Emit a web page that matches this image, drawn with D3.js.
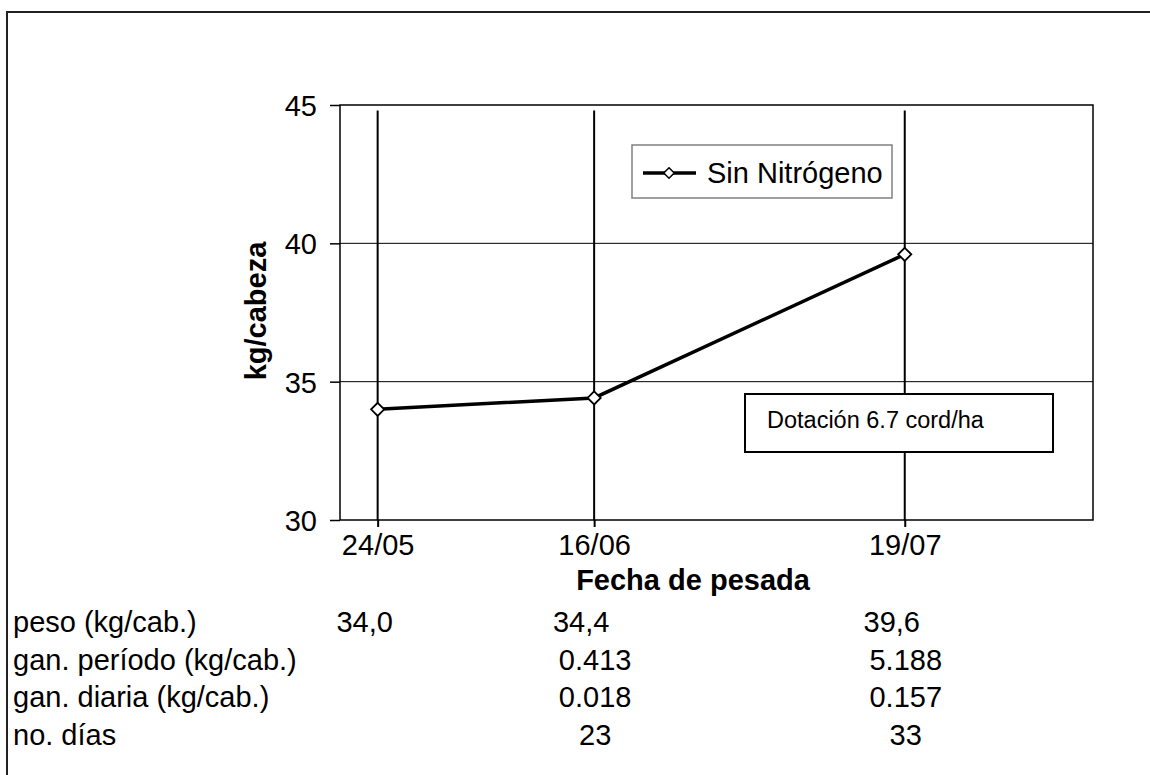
<!DOCTYPE html>
<html>
<head>
<meta charset="utf-8">
<script src="https://cdn.jsdelivr.net/npm/d3@7"></script>
<style>
  body { margin: 0; background: #fff; }
  text { font-family: "Liberation Sans", Arial, sans-serif; fill: #000; }
</style>
</head>
<body>
<script>
// data
const fechas = ["24/05", "16/06", "19/07"];
const peso = [34.0, 34.413, 39.601];
const yTicks = [30, 35, 40, 45];
const serieNombre = "Sin Nitrógeno";
const nota = "Dotación 6.7 cord/ha";

const filaEtiquetas = ["peso (kg/cab.)", "gan. período (kg/cab.)", "gan. diaria (kg/cab.)", "no. días"];
const filaPeso = ["34,0", "34,4", "39,6"];
const filaGanPeriodo = ["", "0.413", "5.188"];
const filaGanDiaria = ["", "0.018", "0.157"];
const filaDias = ["", "23", "33"];

function main(){
    const width = 1150, height = 775;
    const parse = d3.timeParse("%d/%m");

    const svg = d3.select("body").append("svg")
        .attr("width", width)
        .attr("height", height);

    // outer frame
    svg.append("path")
        .attr("d", "M7,775V12H1150")
        .attr("fill", "none")
        .attr("stroke", "#222")
        .attr("stroke-width", 2);

    const xScale = d3.scaleTime()
        .domain([parse("20/05"), parse("08/08")])
        .range([340, 1093]);
    const yScale = d3.scaleLinear().domain([30, 45]).range([520, 105]);

    const pts = fechas.map((f, i) => ({ d: parse(f), v: peso[i] }));

    // gridlines
    svg.append("g").selectAll("line")
        .data([35, 40])
        .join("line")
        .attr("x1", xScale.range()[0]).attr("x2", xScale.range()[1])
        .attr("y1", d => yScale(d)).attr("y2", d => yScale(d))
        .attr("stroke", "#000").attr("stroke-width", 1);

    // vertical lines at each weighing date
    svg.append("g").selectAll("line")
        .data(pts)
        .join("line")
        .attr("x1", d => xScale(d.d)).attr("x2", d => xScale(d.d))
        .attr("y1", yScale(44.8)).attr("y2", yScale(30))
        .attr("stroke", "#000").attr("stroke-width", 2);

    // plot frame
    svg.append("rect")
        .attr("x", xScale.range()[0]).attr("y", yScale(45))
        .attr("width", xScale.range()[1] - xScale.range()[0])
        .attr("height", yScale(30) - yScale(45))
        .attr("fill", "none").attr("stroke", "#000").attr("stroke-width", 1.5);

    // y axis
    const yAxis = svg.append("g")
        .attr("transform", `translate(${xScale.range()[0]},0)`)
        .call(d3.axisLeft(yScale).tickValues(yTicks).tickSize(10).tickPadding(13));
    yAxis.select(".domain").remove();
    yAxis.selectAll("line").attr("stroke", "#000").attr("stroke-width", 1.5);
    yAxis.selectAll("text").attr("font-size", "29px").attr("font-family", null).attr("dy", "0.36em");

    // x axis
    const xAxis = svg.append("g")
        .attr("transform", `translate(0,${yScale(30)})`)
        .call(d3.axisBottom(xScale).tickValues(pts.map(d => d.d))
            .tickFormat(d3.timeFormat("%d/%m")).tickSize(7).tickPadding(7));
    xAxis.select(".domain").remove();
    xAxis.selectAll("line").attr("stroke", "#000").attr("stroke-width", 2);
    xAxis.selectAll("text").attr("font-size", "29px").attr("font-family", null);

    // axis titles
    svg.append("text")
        .attr("x", 693).attr("y", 590)
        .attr("text-anchor", "middle")
        .attr("font-size", "29px").attr("font-weight", "bold")
        .text("Fecha de pesada");
    svg.append("text")
        .attr("transform", "translate(266,311) rotate(-90)")
        .attr("text-anchor", "middle")
        .attr("font-size", "29px").attr("font-weight", "bold")
        .text("kg/cabeza");

    // series line
    const line = d3.line().x(d => xScale(d.d)).y(d => yScale(d.v));
    svg.append("path")
        .datum(pts)
        .attr("d", line)
        .attr("fill", "none").attr("stroke", "#000").attr("stroke-width", 3.5);

    const diamond = d3.symbol().type(d3.symbolDiamond2).size(110);
    svg.append("g").selectAll("path")
        .data(pts)
        .join("path")
        .attr("transform", d => `translate(${xScale(d.d)},${yScale(d.v)})`)
        .attr("d", diamond)
        .attr("fill", "#fff").attr("stroke", "#000").attr("stroke-width", 1.8);

    // legend
    const lg = svg.append("g").attr("transform", "translate(632,145)");
    lg.append("rect")
        .attr("width", 260).attr("height", 53)
        .attr("fill", "#fff").attr("stroke", "#808080").attr("stroke-width", 1.5);
    lg.append("line")
        .attr("x1", 11).attr("x2", 64).attr("y1", 28).attr("y2", 28)
        .attr("stroke", "#000").attr("stroke-width", 3.5);
    lg.append("path")
        .attr("transform", "translate(37,28)")
        .attr("d", d3.symbol().type(d3.symbolDiamond2).size(70))
        .attr("fill", "#fff").attr("stroke", "#000").attr("stroke-width", 1.5);
    lg.append("text")
        .attr("x", 75).attr("y", 38)
        .attr("font-size", "29px")
        .text(serieNombre);

    // annotation box
    svg.append("rect")
        .attr("x", 745).attr("y", 394).attr("width", 308).attr("height", 58)
        .attr("fill", "#fff").attr("stroke", "#000").attr("stroke-width", 2);
    svg.append("text")
        .attr("x", 767).attr("y", 428)
        .attr("font-size", "23.5px")
        .text(nota);

    // data table
    const rows = [filaPeso, filaGanPeriodo, filaGanDiaria, filaDias];
    const rowY = [632, 670, 707, 745];
    const rowShift = [-13, 1, 1, 1];
    filaEtiquetas.forEach((lab, i) => {
        svg.append("text")
            .attr("x", 13).attr("y", rowY[i])
            .attr("font-size", "29px")
            .text(lab);
        svg.append("g").selectAll("text")
            .data(rows[i])
            .join("text")
            .attr("x", (d, j) => xScale(pts[j].d) + rowShift[i])
            .attr("y", rowY[i])
            .attr("text-anchor", "middle")
            .attr("font-size", "29px")
            .text(d => d);
    });
}
main();
</script>
</body>
</html>
